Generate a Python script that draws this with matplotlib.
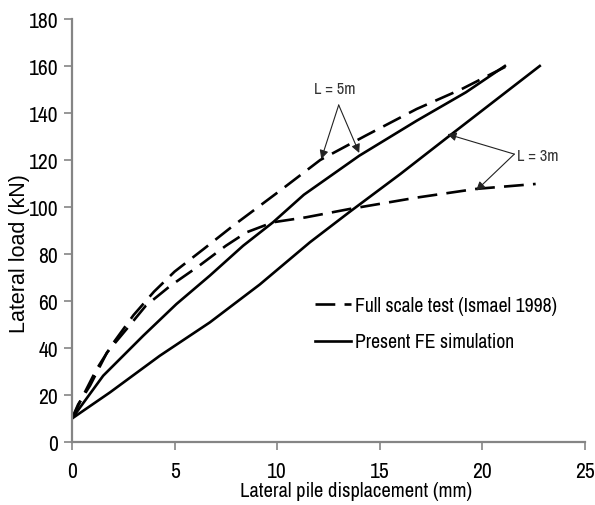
import matplotlib
matplotlib.use("Agg")
import matplotlib.pyplot as plt
from matplotlib.lines import Line2D

# full scale test (dashed) and FE simulation (solid), L = 5m and L = 3m
test_5m_x = [0, 0.5, 1.2, 2.0, 3.0, 4.0, 5.0, 6.4, 7.85, 9.0, 10.3, 12.1, 14.3, 16.8, 19.0, 21.2]
test_5m_y = [10, 19, 31, 42, 54, 64, 72.5, 82, 92, 99.5, 108, 120, 130.3, 141.7, 150.2, 160]

test_3m_x = [0, 0.3, 0.88, 1.7, 2.8, 3.6, 4.8, 6.2, 7.5, 8.5, 9.8, 11.4, 13.5, 16.8, 19.7, 22.6]
test_3m_y = [10, 16, 24, 38, 49.5, 58, 66.5, 75, 83.5, 89.2, 93.5, 95.6, 99.1, 104, 107.7, 109.8]

fe_5m_x = [0, 1.52, 3.47, 5.09, 6.72, 8.34, 9.8, 11.3, 14.0, 16.8, 19.2, 21.1]
fe_5m_y = [10, 28.2, 45.2, 58.7, 70.8, 83.5, 93.5, 105.2, 121.8, 136.7, 148.8, 160]

fe_3m_x = [0, 1.85, 4.28, 6.72, 9.15, 11.6, 13.5, 16.0, 18.4, 22.8]
fe_3m_y = [10, 21.1, 36.7, 50.9, 67, 85, 97.7, 114, 130.3, 160]

xticks = [0, 5, 10, 15, 20, 25]
yticks = [0, 20, 40, 60, 80, 100, 120, 140, 160, 180]

NARROW = ["Arial Narrow", "Liberation Sans Narrow", "Archivo Narrow",
          "Roboto Condensed", "Liberation Sans", "DejaVu Sans"]
REGULAR = ["Arial", "Liberation Sans", "DejaVu Sans"]
plt.rcParams["font.family"] = NARROW
AXIS_GREY = "#858585"

fig = plt.figure(figsize=(5.95, 5.06), dpi=100)
ax = fig.add_axes([0.121, 0.1245, 0.862, 0.836])

lw = 1.9
dash = (7.5, 3.5)
ax.plot(test_5m_x, test_5m_y, color="k", lw=lw, dashes=dash)
ax.plot(test_3m_x, test_3m_y, color="k", lw=lw, dashes=dash)
ax.plot(fe_5m_x, fe_5m_y, color="k", lw=lw)
ax.plot(fe_3m_x, fe_3m_y, color="k", lw=lw)

# callouts
arrow = dict(arrowstyle="-|>", lw=0.8, color="#222222", mutation_scale=13,
             shrinkA=0, shrinkB=0)
ax.text(12.8, 150.6, "L = 5m", ha="center", va="center", fontsize=11.8, color="#333333")
ax.annotate("", xy=(12.15, 120.4), xytext=(13.0, 143.4), arrowprops=arrow)
ax.annotate("", xy=(14.0, 123.0), xytext=(13.0, 143.4), arrowprops=arrow)

ax.text(21.7, 122, "L = 3m", ha="left", va="center", fontsize=11.8, color="#333333")
ax.annotate("", xy=(18.3, 131.0), xytext=(21.56, 122.5), arrowprops=arrow)
ax.annotate("", xy=(19.7, 107.0), xytext=(21.56, 122.5), arrowprops=arrow)

handles = [
    Line2D([], [], color="k", lw=lw, dashes=dash),
    Line2D([], [], color="k", lw=lw),
]
ax.legend(handles, ["Full scale test (Ismael 1998)", "Present FE simulation"],
          loc="upper left", bbox_to_anchor=(0.474, 0.345), frameon=False,
          fontsize=14.2, handlelength=1.8, handletextpad=0.2, labelspacing=0.88,
          borderaxespad=0, borderpad=0)

ax.set_xlim(0, 25)
ax.set_ylim(0, 180)
ax.set_xticks(xticks)
ax.set_yticks(yticks)
ax.tick_params(axis="both", colors=AXIS_GREY, labelcolor="k", labelsize=15.5,
               length=6, width=1.2, direction="out")
ax.tick_params(axis="x", pad=8)
ax.tick_params(axis="y", pad=4)

for side in ["top", "right"]:
    ax.spines[side].set_visible(False)
for side in ["left", "bottom"]:
    ax.spines[side].set_color(AXIS_GREY)
    ax.spines[side].set_linewidth(1.6)

ax.set_xlabel("Lateral pile displacement (mm)", fontsize=14.8)
ax.set_ylabel("Lateral load (kN)", fontsize=15.5, family=REGULAR)
ax.xaxis.set_label_coords(0.553, -0.092)
ax.yaxis.set_label_coords(-0.082, 0.447)

fig.savefig("out.png", dpi=100)
